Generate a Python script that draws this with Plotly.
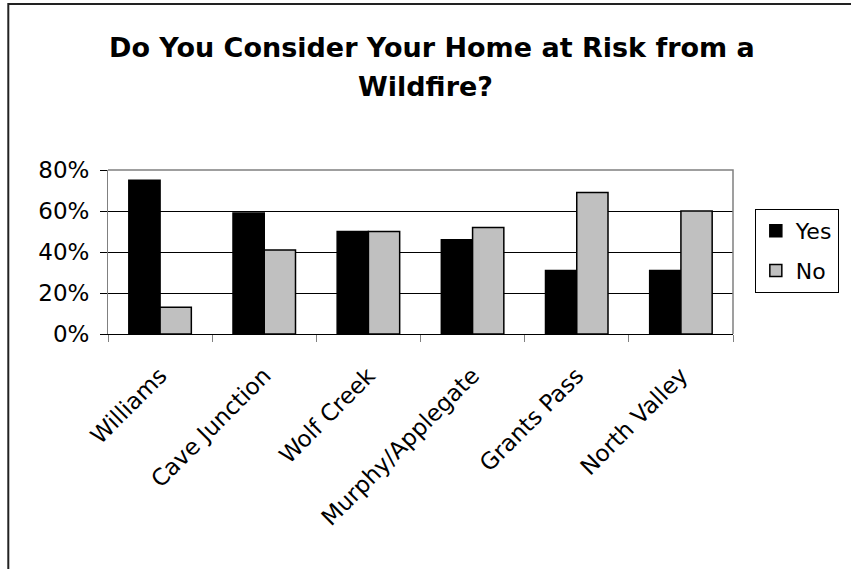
import plotly.graph_objects as go

categories = ["Williams", "Cave Junction", "Wolf Creek", "Murphy/Applegate", "Grants Pass", "North Valley"]
yes_values = [75, 59, 50, 46, 31, 31]
no_values = [13, 41, 50, 52, 69, 60]
y_ticks = [0, 20, 40, 60, 80]
y_tick_labels = ["0%", "20%", "40%", "60%", "80%"]

FONT = "DejaVu Sans, Liberation Sans, Arial, sans-serif"
W, H = 851, 569
L, R, T, B = 108, 738, 170, 334


def px_x(p):
    return (p - L) / (R - L)


def px_y(p):
    return (B - p) / (B - T)


fig = go.Figure()
fig.add_trace(go.Bar(name="Yes", x=categories, y=yes_values,
                     marker=dict(color="#000000", line=dict(color="#000000", width=1.5)),
                     legendgroup="a"))
fig.add_trace(go.Bar(name="No", x=categories, y=no_values,
                     marker=dict(color="#C0C0C0", line=dict(color="#000000", width=1.5)),
                     legendgroup="b"))

fig.update_layout(
    width=W, height=H,
    margin=dict(l=L, r=W - R, t=T, b=H - B, pad=0),
    paper_bgcolor="white", plot_bgcolor="white",
    barmode="group", bargap=0.4, bargroupgap=0,
    font=dict(family=FONT, size=22, color="black"),
    showlegend=True,
    legend=dict(x=px_x(760), y=px_y(209), xanchor="left", yanchor="top",
                bordercolor="black", borderwidth=1, bgcolor="white",
                font=dict(size=22), tracegroupgap=8, traceorder="grouped"),
    xaxis=dict(showline=True, linecolor="black", linewidth=1,
               ticks="outside", tickson="boundaries", ticklen=7, tickcolor="#808080",
               tickangle=-45, tickfont=dict(size=23), showgrid=False,
               ticklabelstandoff=18),
    yaxis=dict(range=[0, 80], tickvals=y_ticks, ticktext=y_tick_labels,
               showline=True, linecolor="#808080", linewidth=1,
               ticks="outside", ticklen=7, tickcolor="black",
               showgrid=True, gridcolor="black", gridwidth=1,
               zeroline=False, tickfont=dict(size=23), ticklabelstandoff=6),
    shapes=[
        # plot area border top and right (gray)
        dict(type="path", xref="paper", yref="paper",
             path="M 0 1 L 1 1 L 1 0", line=dict(color="#808080", width=1.5), layer="above"),
        # outer chart border (left and top)
        dict(type="path", xref="paper", yref="paper",
             path=f"M {px_x(7.5)} {px_y(600)} L {px_x(7.5)} {px_y(4)} L {px_x(900)} {px_y(4)}",
             line=dict(color="#222222", width=2), layer="above"),
    ],
    annotations=[
        dict(text="<b>Do You Consider Your Home at Risk from a</b>", xref="paper", yref="paper",
             x=px_x(435), y=px_y(30), xanchor="center", yanchor="top", showarrow=False,
             font=dict(size=27, family=FONT, color="black")),
        dict(text="<b>Wildfire?</b>", xref="paper", yref="paper",
             x=px_x(428), y=px_y(69), xanchor="center", yanchor="top", showarrow=False,
             font=dict(size=27, family=FONT, color="black")),
    ],
)

fig.write_html("out.html")
